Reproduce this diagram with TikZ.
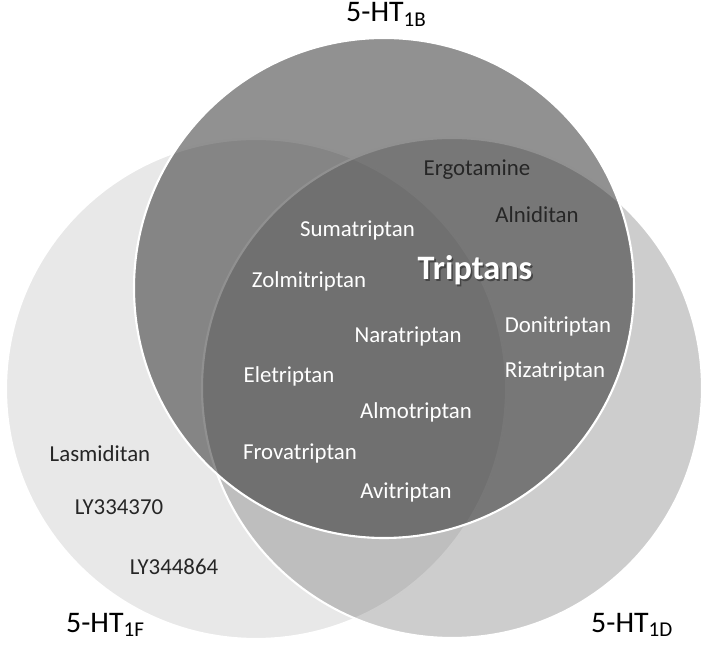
\documentclass[tikz,border=0pt]{standalone}
\usepackage{fontspec}
\setmainfont{Carlito}
\definecolor{receptorF}{RGB}{232,232,232}
\definecolor{receptorD}{RGB}{112,112,112}
\definecolor{receptorB}{RGB}{35,35,35}
\definecolor{druggray}{RGB}{38,38,38}
\definecolor{shadowgray}{RGB}{70,70,70}
\newcommand{\htlabel}[1]{5-HT\raisebox{-2.8pt}{\fontsize{12}{14}\selectfont #1}}
\newcommand{\shadowtext}[1]{\rlap{\hspace{0.9pt}\raisebox{-0.9pt}{\textcolor{shadowgray}{#1}}}#1}

\begin{document}
\begin{tikzpicture}[
    receptor/.style={draw=white, line width=1.2pt},
    drug/.style={anchor=base, text=druggray, font=\fontsize{13}{15}\selectfont},
    triptan/.style={anchor=base, text=white, font=\fontsize{13}{15}\selectfont},
    rlabel/.style={anchor=base west, text=black, font=\fontsize{17}{20}\selectfont}
]
    \useasboundingbox (0,0) rectangle (14.18,12.88);
    % the three receptor circles
    \filldraw[receptor, fill=receptorF] (5.12,5.10) circle (5);
    \filldraw[receptor, fill=receptorD, fill opacity=0.35] (9.04,5.12) circle (5);
    \filldraw[receptor, fill=receptorB, fill opacity=0.5] (7.68,7.12) circle (5);

    % receptor names
    \node[rlabel] (htB) at (6.80,12.44) {\htlabel{1B}};
    \node[rlabel] (htF) at (1.20,0.24) {\htlabel{1F}};
    \node[rlabel] (htD) at (11.70,0.24) {\htlabel{1D}};

    % triptans
    \node[anchor=base, text=white, font=\fontsize{19.5}{22}\selectfont\bfseries] (trip) at (9.50,7.28) {\shadowtext{Triptans}};
    \node[triptan] (suma) at (7.15,8.14) {Sumatriptan};
    \node[triptan] (zolmi) at (6.18,7.12) {Zolmitriptan};
    \node[triptan] (nara) at (8.16,6.02) {Naratriptan};
    \node[triptan] (doni) at (11.16,6.22) {Donitriptan};
    \node[triptan] (riza) at (11.10,5.32) {Rizatriptan};
    \node[triptan] (ele) at (5.78,5.22) {Eletriptan};
    \node[triptan] (almo) at (8.32,4.50) {Almotriptan};
    \node[triptan] (frova) at (6.00,3.68) {Frovatriptan};
    \node[triptan] (avi) at (8.12,2.90) {Avitriptan};

    % other agonists
    \node[drug] (ergo) at (9.54,9.36) {Ergotamine};
    \node[drug] (alni) at (10.74,8.42) {Alniditan};
    \node[drug] (lasmi) at (2.00,3.64) {Lasmiditan};
    \node[drug] (lyA) at (2.38,2.58) {LY334370};
    \node[drug] (lyB) at (3.48,1.38) {LY344864};
\end{tikzpicture}
\end{document}
